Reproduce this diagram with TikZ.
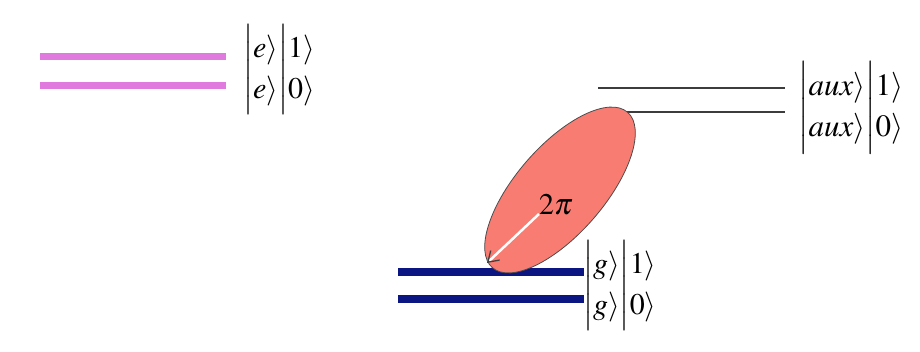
\documentclass[tikz,border=0pt]{standalone}
\usepackage{mathptmx}
\usetikzlibrary{shapes.geometric,arrows.meta}
\definecolor{pinklvl}{RGB}{224,122,222}
\definecolor{navylvl}{RGB}{12,22,130}
\definecolor{lobe}{RGB}{248,124,114}
\definecolor{auxgray}{RGB}{60,60,60}
\tikzset{
  pinkline/.style={pinklvl,line width=7pt},
  blueline/.style={navylvl,line width=8pt},
  auxline/.style={auxgray,line width=2pt},
  ketlbl/.style={anchor=west,inner sep=0pt,font=\fontsize{30}{36}\selectfont},
}
\newcommand{\ketpair}[1]{$\renewcommand{\arraystretch}{1.12}\left|\begin{array}{@{}l@{}}#1\rangle\\#1\rangle\end{array}\right|\!\begin{array}{@{}l@{}}1\rangle\\0\rangle\end{array}$}
\begin{document}
\begin{tikzpicture}[x=1pt,y=-1pt]
\useasboundingbox[fill=white] (0,0) rectangle (920,352);
% pink levels
\draw[pinkline] (40,57) -- (226,57);
\draw[pinkline] (40,86) -- (226,86);
\node[ketlbl] (eLbl) at (243,70) {\ketpair{e}};
% aux levels
\draw[auxline] (598,88) -- (785,88);
\draw[auxline] (612,112) -- (785,112);
\node[ketlbl,font=\fontsize{31}{36}\selectfont] (auxLbl) at (798,108) {\ketpair{aux}};
% blue levels
\draw[blueline] (398,272) -- (584,272);
\draw[blueline] (398,299) -- (584,299);
\node[ketlbl] (gLbl) at (583,286) {\ketpair{g}};
% lobe
\node[ellipse,draw=black!70,fill=lobe,line width=0.8pt,minimum width=206pt,minimum height=88pt,rotate=49,inner sep=0pt] (lobe) at (560,190) {};
\node[font=\fontsize{30}{33}\selectfont,inner sep=0pt] (twopi) at (556,205) {$2\pi$};
\coordinate (arrS) at (539,214);
\coordinate (arrE) at (487,263);
\draw[white,line width=2.5pt,-{Straight Barb[length=10pt,width=13pt,color=black!75,line width=1.3pt]}] (arrS) -- (arrE);
\end{tikzpicture}
\end{document}
